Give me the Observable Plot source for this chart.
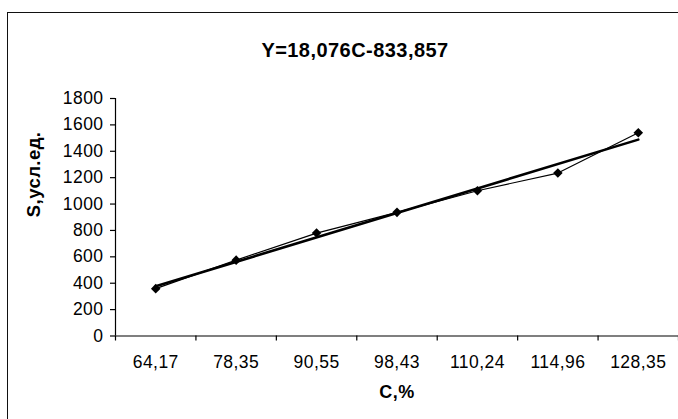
<!DOCTYPE html>
<html>
<head>
<meta charset="utf-8">
<script src="https://cdn.jsdelivr.net/npm/d3@7"></script>
<script src="https://cdn.jsdelivr.net/npm/@observablehq/plot@0.6"></script>
<style>
  html, body { margin: 0; padding: 0; background: #fff; overflow: hidden; }
  #wrap { position: relative; width: 678px; height: 419px; overflow: hidden; }
  #border { position: absolute; left: 7px; top: 12px; width: 720px; height: 460px;
            border: 1.5px solid #111; box-sizing: border-box; pointer-events: none; }
  #wrap svg text { letter-spacing: 0.45px; }
</style>
</head>
<body>
<div id="wrap"><div id="border"></div></div>
<script>
const categories = ["64,17", "78,35", "90,55", "98,43", "110,24", "114,96", "128,35"];
const values = [359, 575, 780, 937, 1101, 1235, 1541];
const yTicks = [0, 200, 400, 600, 800, 1000, 1200, 1400, 1600, 1800];
const titleText = "Y=18,076C-833,857";
const xLabel = "C,%";
const yLabel = "S,усл.ед.";

const data = categories.map((c, i) => ({c, i: i + 0.5, v: values[i]}));

// linear trend (Excel-style, over category index)
const n = values.length;
const xs = values.map((_, i) => i + 1);
const mx = d3.mean(xs), my = d3.mean(values);
const slope = d3.sum(xs, (x, k) => (x - mx) * (values[k] - my)) / d3.sum(xs, x => (x - mx) ** 2);
const icpt = my - slope * mx;
const trend = [0, n - 1].map(k => ({i: k + 0.5, v: icpt + slope * (k + 1)}));

const font = "'Liberation Sans', Arial, Helvetica, sans-serif";

const chart = Plot.plot({
  width: 678,
  height: 419,
  marginLeft: 115,
  marginRight: 0,
  marginTop: 98,
  marginBottom: 83.5,
  x: {type: "linear", domain: [0, categories.length], axis: null},
  y: {domain: [0, 1800], axis: null},
  style: {fontFamily: font, fontSize: "17.5px", color: "#000", background: "transparent", overflow: "visible"},
  marks: [
    Plot.ruleY([0], {x1: 0, x2: categories.length, stroke: "#000", strokeWidth: 1.2}),
    Plot.ruleX([0], {y1: 0, y2: 1800, stroke: "#000", strokeWidth: 1.2}),
    Plot.axisX(d3.range(categories.length + 1), {tickSize: 5, tickFormat: () => "", label: null, strokeWidth: 1.2}),
    Plot.axisX(data.map(d => d.i), {tickSize: 0, tickPadding: 20, tickFormat: d => categories[Math.floor(d)], label: null, fontSize: 17.5}),
    Plot.axisY(yTicks, {tickSize: 5, tickPadding: 7, tickFormat: d => String(d), label: null, fontSize: 17.5, strokeWidth: 1.2}),
    Plot.line(trend, {x: "i", y: "v", stroke: "#000", strokeWidth: 2.6}),
    Plot.line(data, {x: "i", y: "v", stroke: "#000", strokeWidth: 1.2}),
    Plot.dot(data, {x: "i", y: "v", symbol: "square", rotate: 45, r: 3.8, fill: "#000", stroke: "none"}),
    Plot.text([titleText], {frameAnchor: "top", dx: -42, dy: -56, fontWeight: "bold", fontSize: 20}),
    Plot.text([xLabel], {frameAnchor: "bottom", dy: 61.5, fontWeight: "bold", fontSize: 18}),
    Plot.text([yLabel], {frameAnchor: "left", dx: -81, rotate: -90, fontWeight: "bold", fontSize: 18.5})
  ]
});
document.getElementById("wrap").prepend(chart);
</script>
</body>
</html>
